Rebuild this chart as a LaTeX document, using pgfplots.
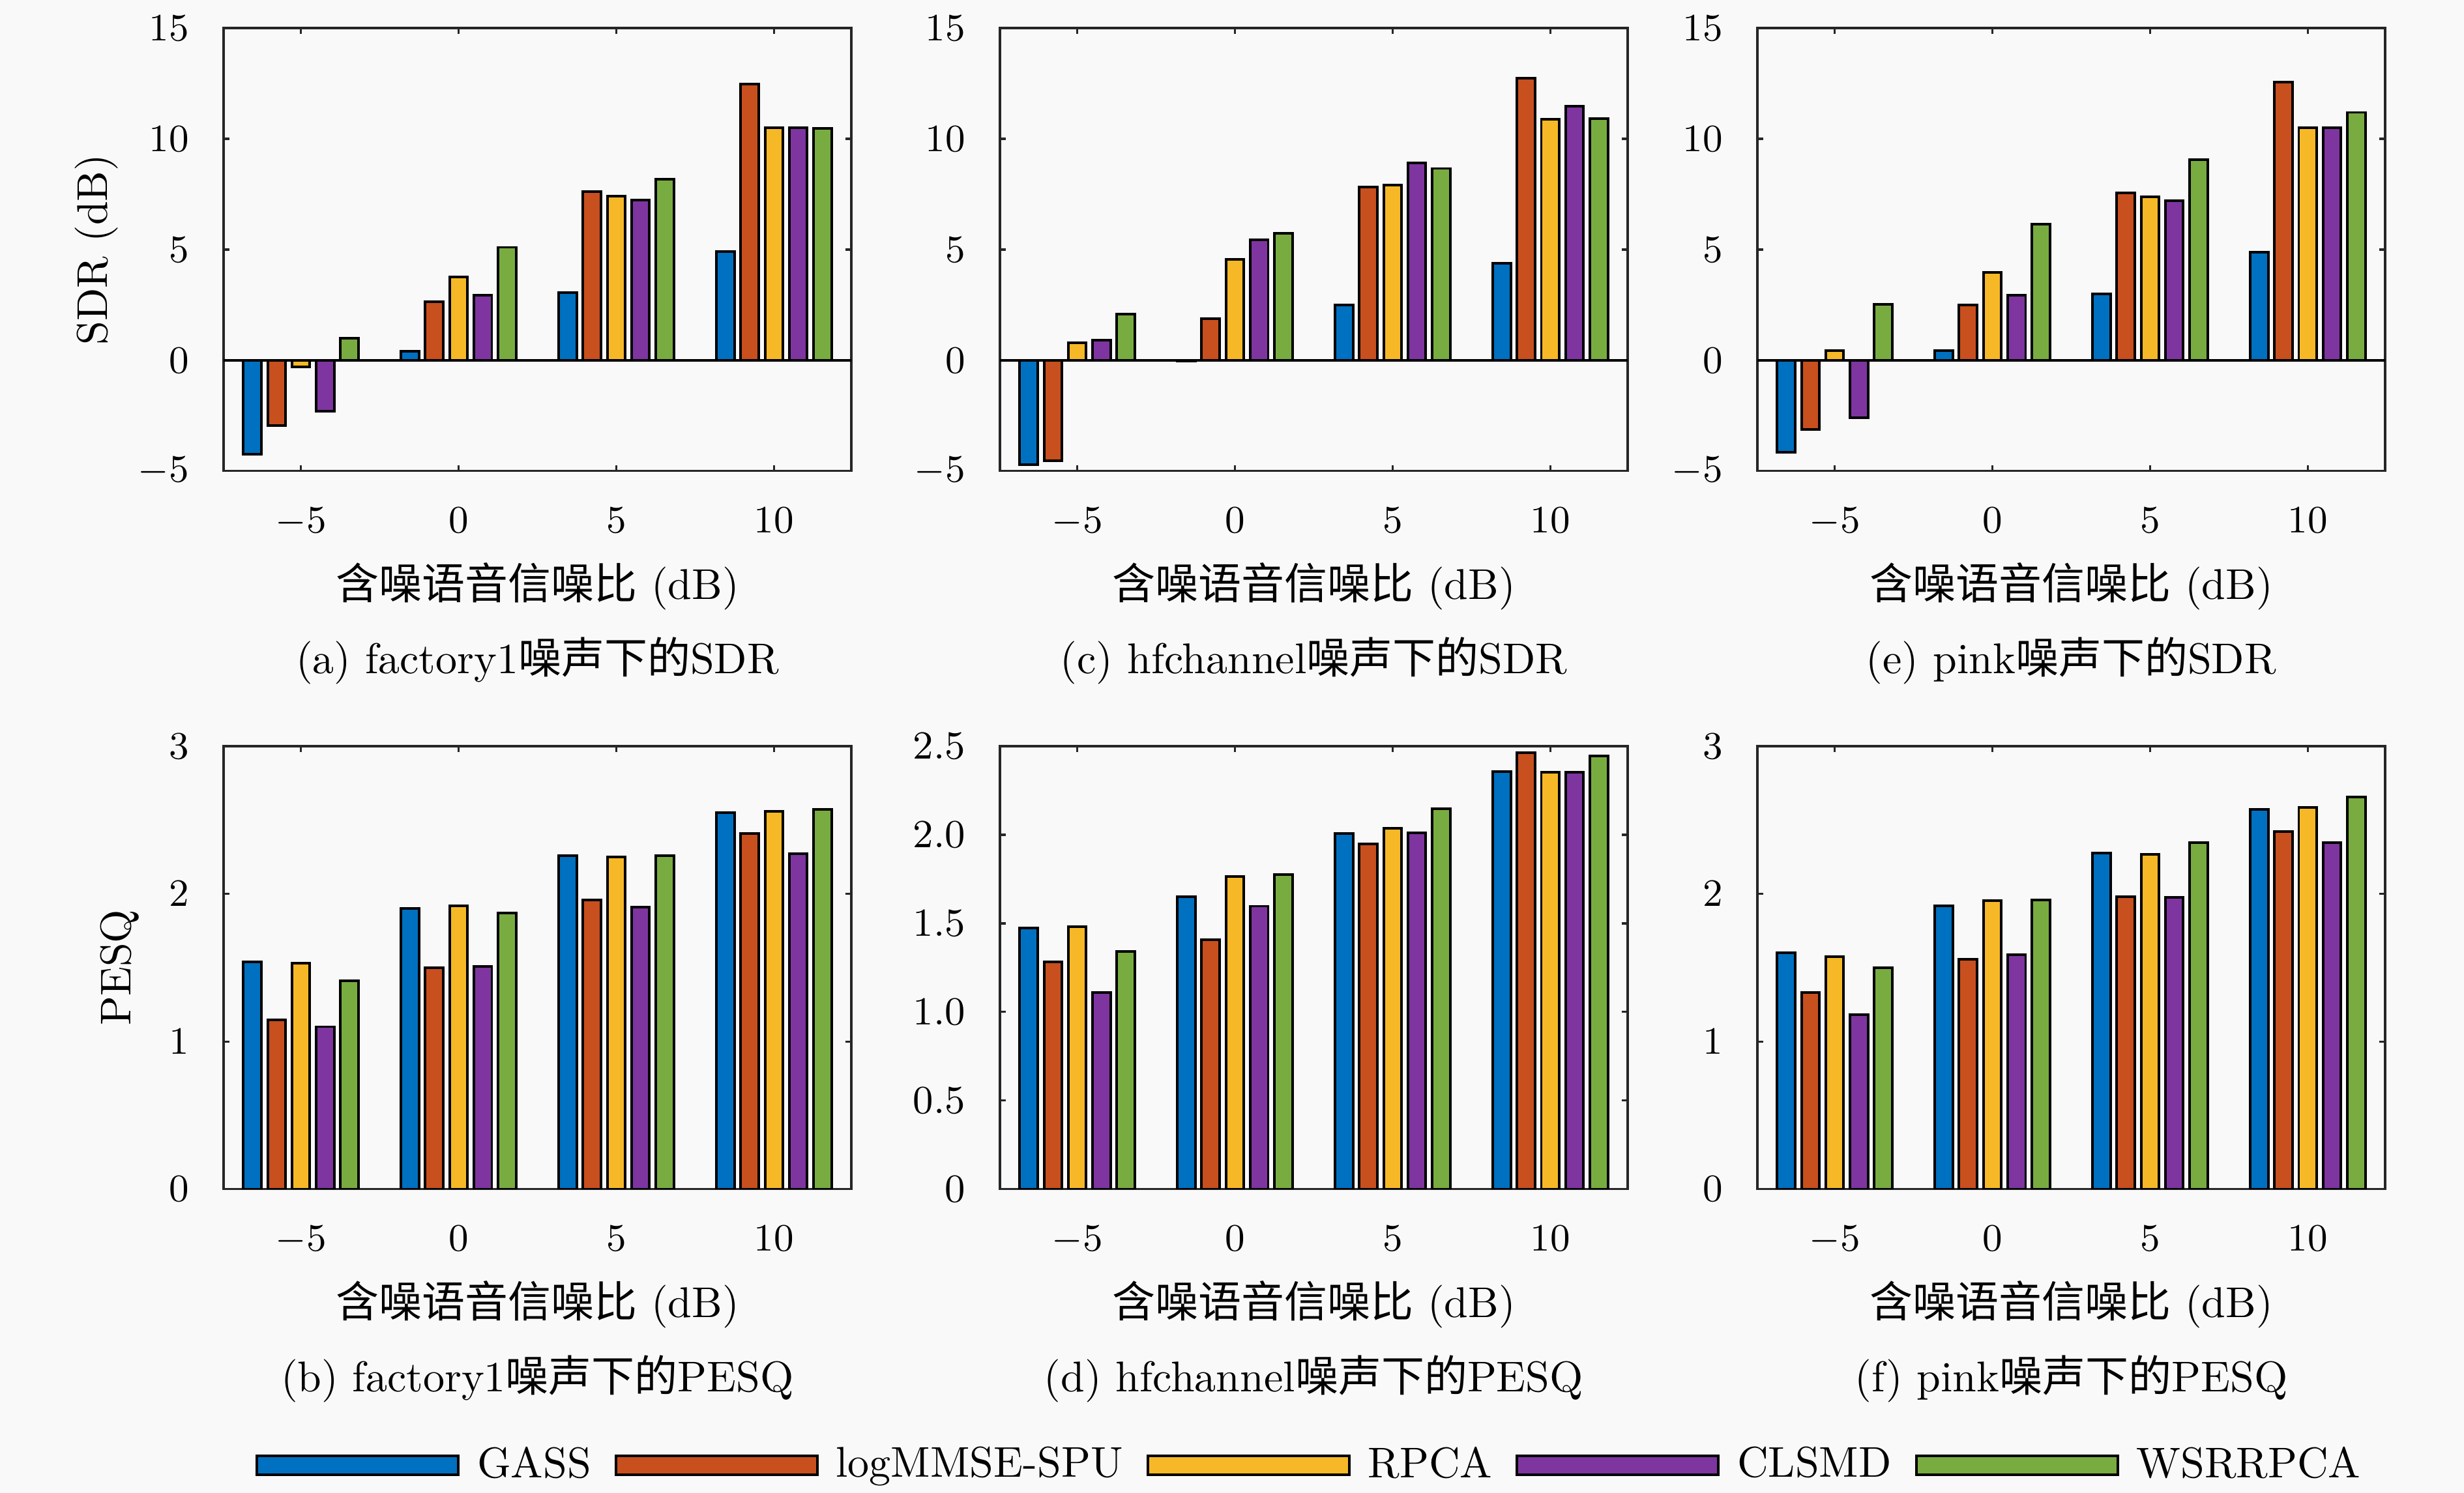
\documentclass[border=0pt]{standalone}
\usepackage{fontspec}
\usepackage{pgfplots}
\usepackage{pgfplotstable}
\pgfplotsset{compat=1.18}
\newfontfamily\cjk{Noto Sans CJK SC}
\definecolor{cA}{HTML}{0070C0}
\definecolor{cB}{HTML}{C84F1E}
\definecolor{cC}{HTML}{F6B826}
\definecolor{cD}{HTML}{7E35A0}
\definecolor{cE}{HTML}{78AC40}
\definecolor{axc}{HTML}{262626}
\definecolor{bgc}{RGB}{249,249,249}

% SDR factory1
\pgfplotstableread{
x g l r c w
-5 -4.25 -2.94 -0.30 -2.30 1.00
0 0.40 2.65 3.77 2.93 5.10
5 3.06 7.61 7.41 7.23 8.18
10 4.90 12.47 10.49 10.49 10.47
}\sdrA
% SDR hfchannel
\pgfplotstableread{
x g l r c w
-5 -4.70 -4.53 0.79 0.91 2.09
0 -0.02 1.88 4.55 5.43 5.73
5 2.51 7.81 7.91 8.91 8.66
10 4.37 12.73 10.89 11.46 10.91
}\sdrC
% SDR pink
\pgfplotstableread{
x g l r c w
-5 -4.16 -3.13 0.44 -2.60 2.53
0 0.44 2.50 3.96 2.93 6.14
5 3.01 7.56 7.39 7.21 9.05
10 4.89 12.57 10.50 10.50 11.19
}\sdrE
% PESQ factory1
\pgfplotstableread{
x g l r c w
-5 1.54 1.145 1.53 1.10 1.41
0 1.90 1.50 1.92 1.51 1.87
5 2.26 1.96 2.25 1.91 2.26
10 2.55 2.41 2.56 2.27 2.57
}\pesqB
% PESQ hfchannel
\pgfplotstableread{
x g l r c w
-5 1.475 1.283 1.48 1.11 1.34
0 1.652 1.407 1.766 1.597 1.776
5 2.007 1.948 2.037 2.009 2.146
10 2.358 2.462 2.351 2.353 2.444
}\pesqD
% PESQ pink
\pgfplotstableread{
x g l r c w
-5 1.60 1.33 1.574 1.18 1.50
0 1.92 1.556 1.953 1.589 1.959
5 2.278 1.98 2.269 1.978 2.345
10 2.572 2.42 2.584 2.345 2.654
}\pesqF

\pgfplotsset{
  panel/.style={
    scale only axis, width=145.9pt, height=103.0pt, anchor=north west,
    clip mode=individual,
    xmin=-7.45, xmax=12.45, xtick={-5,0,5,10},
    axis line style={draw=axc, line width=0.5pt},
    tick style={draw=axc, line width=0.5pt},
    major tick length=1.3pt, tick align=inside,
    tick label style={font=\fontsize{9.25}{11}\selectfont, text=black},
    xticklabel style={yshift=-5pt},
    yticklabel style={xshift=-4.5pt},
    xlabel={{\cjk 含噪语音信噪比} (dB)},
    xlabel style={at={(axis description cs:0.5,-0.26)}, anchor=center, font=\fontsize{10}{12}\selectfont},
    ylabel style={anchor=center, font=\fontsize{10}{12}\selectfont},
  },
  sdr/.style={ymin=-5, ymax=15, ytick={-5,0,5,10,15},
    extra y ticks={0}, extra y tick labels={},
    extra y tick style={grid=major, major grid style={draw=black, line width=0.5pt}, major tick length=0pt}},
  pesq/.style={ymin=0, ymax=3, ytick={0,1,2,3}},
  bs/.style={ybar, bar width=4.2pt, draw=black, line width=0.6pt},
}
\newcommand\bars[1]{%
  \addplot[bs, bar shift=-11.26pt, fill=cA] table[x=x,y=g]{#1};
  \addplot[bs, bar shift=-5.63pt, fill=cB] table[x=x,y=l]{#1};
  \addplot[bs, bar shift=0pt, fill=cC] table[x=x,y=r]{#1};
  \addplot[bs, bar shift=5.63pt, fill=cD] table[x=x,y=c]{#1};
  \addplot[bs, bar shift=11.26pt, fill=cE] table[x=x,y=w]{#1};
}
\newcommand\pcap[1]{\node[font=\fontsize{10}{12}\selectfont] at (rel axis cs:0.5,-0.428) {#1};}

\begin{document}
\begin{tikzpicture}
\path[use as bounding box, fill=bgc] (0,0) rectangle (572.73pt,-347.12pt);

\begin{axis}[panel, sdr, at={(51.97pt,-6.52pt)}, ylabel={SDR (dB)},
  ylabel style={at={(axis description cs:-0.2025,0.5)}}]
\bars{\sdrA}
\pcap{(a) factory1{\cjk 噪声下的}SDR}
\end{axis}

\begin{axis}[panel, sdr, at={(232.42pt,-6.52pt)}]
\bars{\sdrC}
\pcap{(c) hfchannel{\cjk 噪声下的}SDR}
\end{axis}

\begin{axis}[panel, sdr, at={(408.48pt,-6.52pt)}]
\bars{\sdrE}
\pcap{(e) pink{\cjk 噪声下的}SDR}
\end{axis}

\begin{axis}[panel, pesq, at={(51.97pt,-173.48pt)}, ylabel={PESQ},
  ylabel style={at={(axis description cs:-0.165,0.5)}}]
\bars{\pesqB}
\pcap{(b) factory1{\cjk 噪声下的}PESQ}
\end{axis}

\begin{axis}[panel, at={(232.42pt,-173.48pt)}, ymin=0, ymax=2.5,
  ytick={0,0.5,1,1.5,2,2.5}, yticklabels={0,0.5,1.0,1.5,2.0,2.5}]
\bars{\pesqD}
\pcap{(d) hfchannel{\cjk 噪声下的}PESQ}
\end{axis}

\begin{axis}[panel, pesq, at={(408.48pt,-173.48pt)}]
\bars{\pesqF}
\pcap{(f) pink{\cjk 噪声下的}PESQ}
\end{axis}

% legend
\begin{axis}[scale only axis, width=145.9pt, height=103.0pt, anchor=north west,
  at={(232.42pt,-173.48pt)}, hide axis, xmin=0, xmax=1, ymin=0, ymax=1,
  legend columns=5,
  legend image code/.code={\draw[#1] (0pt,-2.2pt) rectangle (46.8pt,2.2pt);},
  legend style={at={(0.491,-0.6235)}, anchor=center, draw=none, fill=none,
    inner sep=0pt, font=\fontsize{10}{12}\selectfont,
    nodes={inner sep=0pt},
    /tikz/every odd column/.append style={column sep=4.1pt},
    /tikz/every even column/.append style={column sep=5.45pt}}]
\addlegendimage{fill=cA, draw=black, line width=0.6pt}
\addlegendentry{GASS}
\addlegendimage{fill=cB, draw=black, line width=0.6pt}
\addlegendentry{logMMSE-SPU}
\addlegendimage{fill=cC, draw=black, line width=0.6pt}
\addlegendentry{RPCA}
\addlegendimage{fill=cD, draw=black, line width=0.6pt}
\addlegendentry{CLSMD}
\addlegendimage{fill=cE, draw=black, line width=0.6pt}
\addlegendentry{WSRRPCA}
\end{axis}
\end{tikzpicture}
\end{document}
